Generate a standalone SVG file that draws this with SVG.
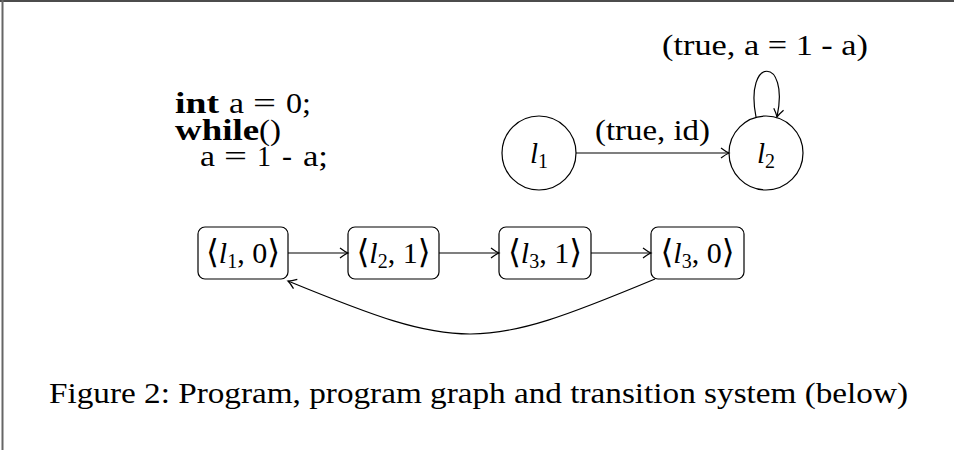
<svg xmlns="http://www.w3.org/2000/svg" width="954" height="450" viewBox="0 0 954 450">
<defs>
<style>
text{font-family:"Liberation Serif","DejaVu Serif",serif;font-size:29px;fill:#000}
.b{font-weight:bold}
.it{font-style:italic}
.node{fill:none;stroke:#000;stroke-width:1.2}
.edge{fill:none;stroke:#000;stroke-width:1.2}
.ang{font-family:"DejaVu Serif","Liberation Serif",serif;font-size:33px}
.st{font-size:30px}
</style>
<marker id="arr" markerUnits="userSpaceOnUse" markerWidth="14" markerHeight="14" viewBox="-10 -7 12 14" refX="0" refY="0" orient="auto">
<path d="M -8 -5 Q -3 -1.2 0 0 Q -3 1.2 -8 5" fill="none" stroke="#000" stroke-width="1.2"/>
</marker>
</defs>
<rect width="954" height="450" fill="#fff"/>
<line x1="0" y1="1" x2="954" y2="1" stroke="#111" stroke-width="1.5"/>
<line x1="2.5" y1="0" x2="2.5" y2="450" stroke="#666" stroke-width="2"/>

<g id="program">
<text class="b" x="175" y="113" textLength="44" lengthAdjust="spacingAndGlyphs">int</text>
<text x="229" y="113" textLength="15" lengthAdjust="spacingAndGlyphs">a</text>
<text x="253" y="113" textLength="23" lengthAdjust="spacingAndGlyphs">=</text>
<text x="286" y="113" textLength="25" lengthAdjust="spacingAndGlyphs">0;</text>
<text class="b" x="175" y="140" textLength="84" lengthAdjust="spacingAndGlyphs">while</text>
<text x="259" y="140" textLength="22" lengthAdjust="spacingAndGlyphs">()</text>
<text x="200" y="166" textLength="15" lengthAdjust="spacingAndGlyphs">a</text>
<text x="224" y="166" textLength="23" lengthAdjust="spacingAndGlyphs">=</text>
<text x="257" y="166" textLength="14" lengthAdjust="spacingAndGlyphs">1</text>
<text x="282" y="166" textLength="10" lengthAdjust="spacingAndGlyphs">-</text>
<text x="303" y="166" textLength="25" lengthAdjust="spacingAndGlyphs">a;</text>
</g>

<g id="connectors">
<line class="edge" x1="576" y1="153" x2="729" y2="153" marker-end="url(#arr)"/>
<path class="edge" d="M 756 117 C 744 56, 790 56, 777 117" marker-end="url(#arr)"/>
<line class="edge" x1="288" y1="253" x2="348" y2="253" marker-end="url(#arr)"/>
<line class="edge" x1="439" y1="253" x2="499" y2="253" marker-end="url(#arr)"/>
<line class="edge" x1="591" y1="253" x2="651" y2="253" marker-end="url(#arr)"/>
<path class="edge" d="M 655 279 C 480 352, 461 352, 288 281" marker-end="url(#arr)"/>
<text x="595" y="140" textLength="115" lengthAdjust="spacingAndGlyphs">(true, id)</text>
<text x="662" y="55" textLength="206" lengthAdjust="spacingAndGlyphs">(true, a = 1 - a)</text>
</g>

<g id="l1">
<circle class="node" cx="539" cy="153" r="37"/>
<text x="539" y="163" text-anchor="middle"><tspan class="it">l</tspan><tspan font-size="20" dy="5">1</tspan></text>
</g>
<g id="l2">
<circle class="node" cx="766" cy="153" r="37"/>
<text x="766" y="163" text-anchor="middle"><tspan class="it">l</tspan><tspan font-size="20" dy="5">2</tspan></text>
</g>

<g id="s1">
<rect class="node" x="198" y="227" width="90" height="52" rx="7"/>
<text class="st" x="243" y="263" text-anchor="middle"><tspan class="ang">⟨</tspan><tspan class="it">l</tspan><tspan font-size="20" dy="5">1</tspan><tspan dy="-5">, 0</tspan><tspan class="ang">⟩</tspan></text>
</g>
<g id="s2">
<rect class="node" x="348" y="227" width="91" height="52" rx="7"/>
<text class="st" x="393.5" y="263" text-anchor="middle"><tspan class="ang">⟨</tspan><tspan class="it">l</tspan><tspan font-size="20" dy="5">2</tspan><tspan dy="-5">, 1</tspan><tspan class="ang">⟩</tspan></text>
</g>
<g id="s3">
<rect class="node" x="499" y="227" width="92" height="52" rx="7"/>
<text class="st" x="545" y="263" text-anchor="middle"><tspan class="ang">⟨</tspan><tspan class="it">l</tspan><tspan font-size="20" dy="5">3</tspan><tspan dy="-5">, 1</tspan><tspan class="ang">⟩</tspan></text>
</g>
<g id="s4">
<rect class="node" x="651" y="227" width="93" height="52" rx="7"/>
<text class="st" x="697.5" y="263" text-anchor="middle"><tspan class="ang">⟨</tspan><tspan class="it">l</tspan><tspan font-size="20" dy="5">3</tspan><tspan dy="-5">, 0</tspan><tspan class="ang">⟩</tspan></text>
</g>

<text id="caption" x="49" y="403" textLength="859" lengthAdjust="spacingAndGlyphs">Figure 2: Program, program graph and transition system (below)</text>
</svg>
